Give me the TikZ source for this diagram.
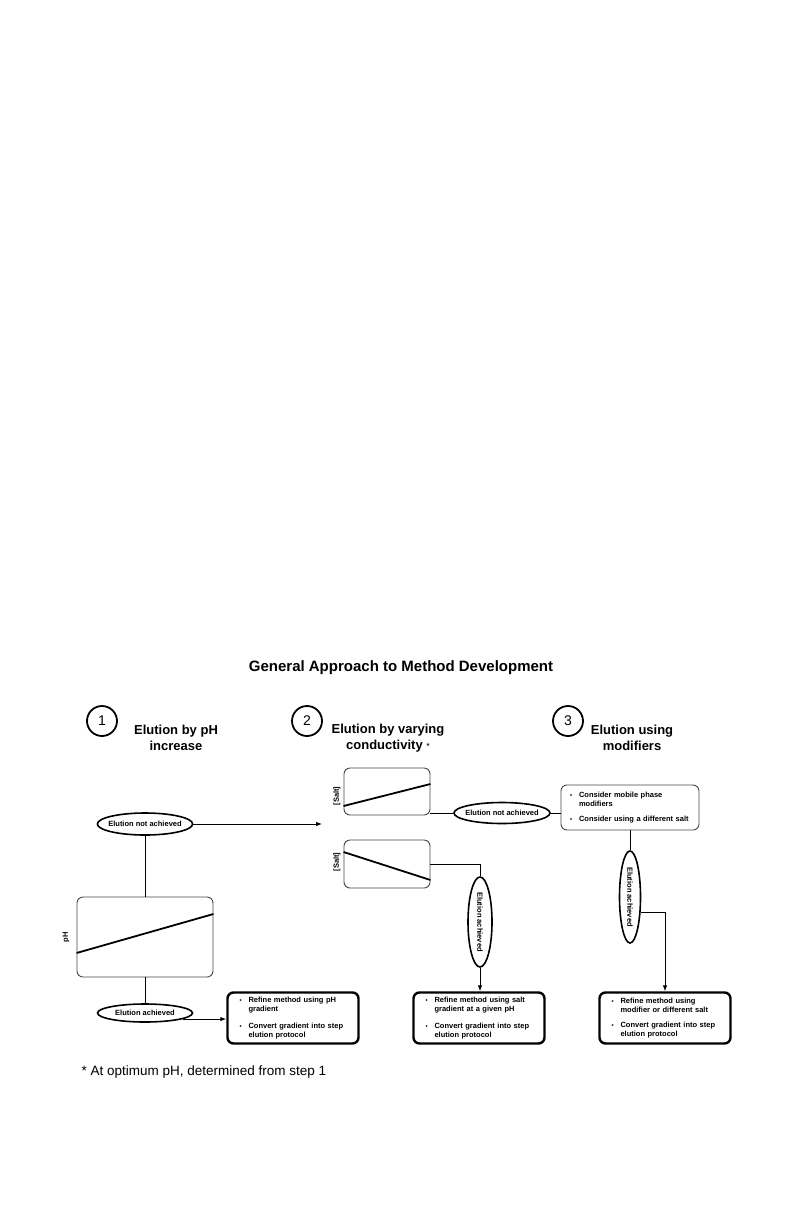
\documentclass[tikz,border=0pt]{standalone}
\usepackage{fontspec}
\setmainfont{Liberation Sans}
\usetikzlibrary{shapes.geometric, arrows.meta}

\newcommand{\punto}[2][98pt]{\makebox[9pt][l]{\scalebox{0.8}{\textbullet}}\parbox[t]{#1}{\raggedright #2}}

\begin{document}
\begin{tikzpicture}[
    x=1pt, y=-1pt,
    titolo/.style={font=\bfseries\fontsize{15}{18}\selectfont},
    intest/.style={font=\bfseries\fontsize{13}{16}\selectfont, align=center},
    numero/.style={circle, draw=black, line width=1.8pt, minimum size=30pt, inner sep=0pt, font=\fontsize{14}{14}\selectfont},
    esito/.style={ellipse, draw=black, line width=1.6pt, inner xsep=-3pt, inner ysep=1pt, font=\bfseries\fontsize{7.5}{8}\selectfont},
    grafico/.style={draw=colorBordo, line width=0.9pt, rounded corners=6pt, minimum width=86pt},
    retta/.style={line width=1.8pt},
    asse/.style={rotate=90, font=\bfseries\fontsize{7.5}{8}\selectfont},
    nota/.style={draw=colorBordo, line width=0.9pt, rounded corners=6pt, align=left, text width=120pt, inner xsep=9pt, minimum height=45pt, font=\bfseries\fontsize{7.5}{9}\selectfont},
    risultato/.style={draw=black, line width=2.4pt, rounded corners=6pt, align=left, text width=107pt, inner xsep=12pt, minimum height=51pt, font=\bfseries\fontsize{7.5}{9}\selectfont},
    conn/.style={line width=0.9pt},
    freccia/.style={line width=0.9pt, -{Latex[length=6pt, width=4.5pt]}}
    ]
    % Definizione colori
    \definecolor{colorBordo}{RGB}{70, 70, 70}

    \useasboundingbox (0,0) rectangle (793,1225);

    % Titolo e intestazioni
    \node[titolo] (titolo) at (401,668) {General Approach to Method Development};

    \node[numero] (num1) at (102,721) {1};
    \node[intest] (fase1) at (176,738) {Elution by pH\\increase};
    \node[numero] (num2) at (307,721) {2};
    \node[intest] (fase2) at (388,738) {Elution by varying\\conductivity {\mdseries\fontsize{9}{9}\selectfont *}};
    \node[numero] (num3) at (568,721) {3};
    \node[intest] (fase3) at (632,738) {Elution using\\modifiers};

    % Colonna 1: gradiente di pH
    \node[esito, minimum width=95pt, minimum height=22pt] (nonL) at (145,824) {Elution not achieved};
    \coordinate (versoSale) at (322,824);

    \node[grafico, minimum width=136pt, minimum height=80pt] (boxPH) at (145,937) {};
    \draw[retta] ([yshift=-16pt]boxPH.west) -- ([yshift=23pt]boxPH.east);
    \node[asse] (assePH) at (66,937) {pH};

    \node[esito, minimum width=95pt, minimum height=18pt] (siL) at (145,1013) {Elution achieved};
    \node[risultato] (ris1) at (293,1018) {\punto{Refine method using pH\\gradient}\\[9pt]\punto{Convert gradient into step\\elution protocol}};

    % Colonna 2: gradiente di sale
    \node[grafico, minimum height=47pt] (sale1) at (387,791.5) {};
    \draw[retta] ([yshift=-14.5pt]sale1.west) -- ([yshift=7.5pt]sale1.east);
    \node[asse] (asseSale1) at (337,796) {[Salt]};

    \node[grafico, minimum height=48pt] (sale2) at (387,864) {};
    \draw[retta] ([yshift=12pt]sale2.west) -- ([yshift=-16pt]sale2.east);
    \node[asse] (asseSale2) at (337,862) {[Salt]};

    \node[esito, minimum width=96pt, minimum height=21pt] (nonM) at (502,813) {Elution not achieved};
    \node[esito, minimum width=24pt, minimum height=90pt] (siM) at (480,922) {\rotatebox{-90}{Elution achieved}};
    \node[risultato] (ris2) at (479,1018) {\punto{Refine method using salt\\gradient at a given pH}\\[9pt]\punto{Convert gradient into step\\elution protocol}};

    % Colonna 3: modificatori
    \node[nota] (modif) at (630,807.5) {\punto[111pt]{Consider mobile phase\\modifiers}\\[9pt]\punto[111pt]{Consider using a different salt}};
    \node[esito, minimum width=21pt, minimum height=92pt] (siR) at (630,897) {\rotatebox{-90}{Elution achieved}};
    \node[risultato] (ris3) at (665,1018) {\punto{Refine method using\\modifier or different salt}\\[9pt]\punto{Convert gradient into step\\elution protocol}};

    % Collegamenti
    \draw[freccia] (nonL.east) -- (versoSale);
    \draw[conn] (nonL.south) -- (boxPH.north);
    \draw[conn] (boxPH.south) -- (siL.north);
    \draw[freccia] (siL.-9) -- (siL.-9 -| ris1.west);

    \draw[conn] (nonM.west) -- (nonM.west -| sale1.east);
    \draw[conn] (nonM.east) -- (nonM.east -| modif.west);
    \draw[conn] (sale2.east) -| (siM.north);
    \draw[freccia] (siM.south) -- (siM.south |- ris2.north);

    \draw[conn] (modif.south) -- (siR.north);
    \draw[freccia] (siR.-55) -| (ris3.north);

    % Nota a pie' di pagina
    \node[anchor=west, font=\fontsize{13.5}{16}\selectfont] (piede) at (78,1072) {* At optimum pH, determined from step 1};
\end{tikzpicture}
\end{document}
